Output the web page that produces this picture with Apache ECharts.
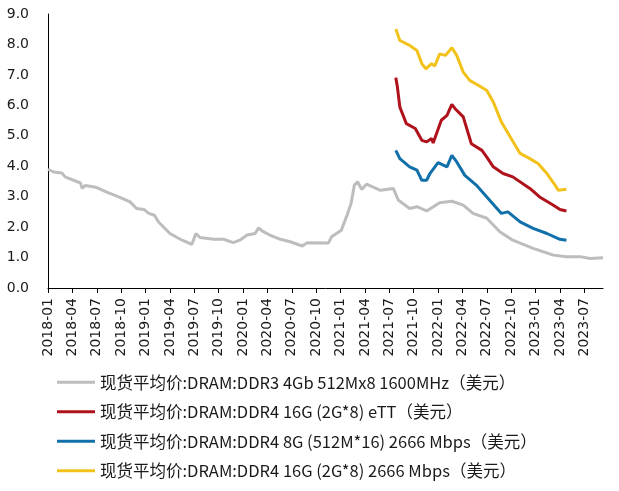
<!DOCTYPE html>
<html><head><meta charset="utf-8">
<script src="https://cdn.jsdelivr.net/npm/echarts@6/dist/echarts.min.js"></script>
<style>html,body{margin:0;padding:0;background:#fff}#c{width:619px;height:491px}</style>
</head><body><div id="c"></div>
<script>
const seriesNames = [
  '现货平均价:DRAM:DDR3 4Gb 512Mx8 1600MHz（美元）',
  '现货平均价:DRAM:DDR4 16G (2G*8) eTT（美元）',
  '现货平均价:DRAM:DDR4 8G (512M*16) 2666 Mbps（美元）',
  '现货平均价:DRAM:DDR4 16G (2G*8) 2666 Mbps（美元）'
];
const xTickLabels = ['2018-01','2018-04','2018-07','2018-10','2019-01','2019-04','2019-07','2019-10','2020-01','2020-04','2020-07','2020-10','2021-01','2021-04','2021-07','2021-10','2022-01','2022-04','2022-07','2022-10','2023-01','2023-04','2023-07'];
const yTicks = [0,1,2,3,4,5,6,7,8,9];

const ddr3Dates = ['2018-01-01','2018-01-22','2018-02-22','2018-03-04','2018-04-19','2018-05-01','2018-05-07','2018-05-19','2018-07-01','2018-08-10','2018-09-22','2018-11-04','2018-11-28','2018-12-25','2019-01-13','2019-02-04','2019-02-19','2019-04-01','2019-05-16','2019-06-22','2019-07-07','2019-07-22','2019-09-13','2019-10-19','2019-11-25','2019-12-19','2020-01-16','2020-02-16','2020-02-28','2020-03-16','2020-04-10','2020-05-19','2020-06-25','2020-08-10','2020-08-28','2020-11-16','2020-11-28','2021-01-04','2021-01-25','2021-02-10','2021-02-22','2021-03-04','2021-03-19','2021-04-07','2021-05-28','2021-07-16','2021-08-04','2021-09-16','2021-10-13','2021-11-19','2022-01-07','2022-02-22','2022-04-04','2022-05-10','2022-07-01','2022-08-19','2022-10-07','2022-12-22','2023-03-07','2023-04-25','2023-06-16','2023-07-22','2023-09-10'];
const ddr3Values = [3.90,3.81,3.78,3.65,3.49,3.45,3.27,3.37,3.30,3.14,2.99,2.83,2.61,2.58,2.45,2.39,2.17,1.79,1.57,1.43,1.79,1.66,1.60,1.60,1.49,1.57,1.74,1.79,1.97,1.85,1.74,1.60,1.52,1.38,1.49,1.48,1.68,1.90,2.39,2.78,3.38,3.49,3.24,3.41,3.21,3.27,2.89,2.61,2.67,2.53,2.80,2.85,2.72,2.45,2.29,1.85,1.57,1.30,1.08,1.03,1.03,0.97,0.99];

const ettDates = ['2021-07-25','2021-08-01','2021-08-10','2021-09-04','2021-10-07','2021-11-01','2021-11-19','2021-12-07','2021-12-13','2022-01-13','2022-02-04','2022-02-22','2022-03-04','2022-04-04','2022-05-04','2022-06-13','2022-07-01','2022-07-25','2022-09-01','2022-10-07','2022-12-10','2023-01-16','2023-03-07','2023-04-01','2023-04-25'];
const ettValues = [6.91,6.60,5.94,5.40,5.24,4.85,4.80,4.91,4.76,5.51,5.67,6.03,5.89,5.62,4.74,4.52,4.30,3.98,3.76,3.65,3.27,2.99,2.72,2.58,2.53];

const ddr48gDates = ['2021-07-25','2021-08-10','2021-09-16','2021-10-13','2021-11-01','2021-11-19','2021-12-01','2022-01-01','2022-02-04','2022-02-22','2022-03-10','2022-04-10','2022-05-22','2022-07-01','2022-08-25','2022-09-19','2022-11-04','2022-12-22','2023-02-13','2023-04-01','2023-04-25'];
const ddr48gValues = [4.52,4.25,3.98,3.87,3.54,3.54,3.76,4.12,3.98,4.36,4.14,3.70,3.38,2.99,2.45,2.50,2.17,1.96,1.79,1.60,1.57];

const ddr416gDates = ['2021-07-25','2021-08-10','2021-09-16','2021-10-13','2021-11-01','2021-11-16','2021-12-07','2021-12-19','2022-01-07','2022-01-28','2022-02-22','2022-03-10','2022-04-04','2022-04-28','2022-06-07','2022-07-01','2022-07-25','2022-08-25','2022-10-01','2022-11-04','2022-12-10','2023-01-10','2023-02-13','2023-03-13','2023-03-25','2023-04-25'];
const ddr416gValues = [8.51,8.13,7.97,7.80,7.37,7.20,7.37,7.29,7.69,7.64,7.89,7.64,7.09,6.82,6.62,6.49,6.11,5.45,4.91,4.42,4.25,4.09,3.76,3.38,3.21,3.24];

const colors = ['#BDBDBD','#B0121B','#1170AA','#F2C21B'];

function monthIndex(s){const p=s.split('-').map(Number);return (p[0]-2018)*12+(p[1]-1)+(p[2]-1)/30;}
function pairs(d,v){return d.map((s,i)=>[monthIndex(s),v[i]]);}
const tickValues = xTickLabels.map(l=>monthIndex(l+'-01'));
const labelFor = {}; xTickLabels.forEach((l,i)=>{labelFor[tickValues[i]]=l;});

const axisFont = 'DejaVu Sans';
const data = [pairs(ddr3Dates,ddr3Values),pairs(ettDates,ettValues),pairs(ddr48gDates,ddr48gValues),pairs(ddr416gDates,ddr416gValues)];

const chart = echarts.init(document.getElementById('c'));
chart.setOption({
  animation:false,
  backgroundColor:'#fff',
  grid:{left:48,right:16,top:14,bottom:203,containLabel:false},
  xAxis:{type:'value',min:0,max:68.3,
    axisLine:{lineStyle:{color:'#000',width:1}},
    axisTick:{show:true,inside:false,length:5,lineStyle:{color:'#000'},customValues:tickValues},
    axisLabel:{rotate:90,margin:10,fontFamily:axisFont,fontSize:14,color:'#1a1a1a',customValues:tickValues,
      formatter:v=>labelFor[v]!==undefined?labelFor[v]:''},
    splitLine:{show:false}},
  yAxis:{type:'value',min:0,max:9,interval:1,
    axisLine:{show:true,lineStyle:{color:'#000',width:1}},
    axisTick:{show:false},
    axisLabel:{margin:19,fontFamily:axisFont,fontSize:14,color:'#1a1a1a',formatter:v=>v.toFixed(1)},
    splitLine:{show:false}},
  legend:{orient:'vertical',left:52,top:369,itemWidth:38,itemHeight:3,itemGap:13,icon:'rect',
    textStyle:{fontFamily:'Noto Sans CJK SC',fontSize:16.5,color:'#1a1a1a'},
    data:seriesNames},
  series:seriesNames.map((n,i)=>({name:n,type:'line',data:data[i],symbol:'none',
    lineStyle:{color:colors[i],width:3},itemStyle:{color:colors[i]}}))
});
</script></body></html>
